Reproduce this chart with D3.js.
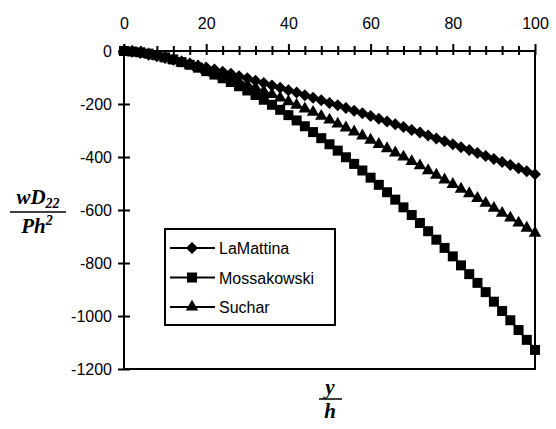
<!DOCTYPE html>
<html>
<head>
<meta charset="utf-8">
<script src="https://cdn.jsdelivr.net/npm/d3@7"></script>
<style>
body { margin: 0; background: #fff; }
text { font-family: "Liberation Sans", Arial, sans-serif; fill: #000; }
.axis path { display: none; }
.axis line { stroke: #000; stroke-width: 2px; }
.tick text { font-size: 16px; }
.ttl { font-family: "Liberation Serif", "Times New Roman", serif; font-weight: bold; font-style: italic; }
</style>
</head>
<body>
<svg id="chart"></svg>
<script>
// y/h positions
const xs = [0,2,4,6,8,10,12,14,16,18,20,22,24,26,28,30,32,34,36,38,40,42,44,46,48,50,
  52,54,56,58,60,62,64,66,68,70,72,74,76,78,80,82,84,86,88,90,92,94,96,98,100];
const laMattina = [0,-3,-8,-14,-20,-26,-33,-40,-47,-55,-62,-70,-78,-86,-95,-103,-112,-121,-130,-139,
  -148,-157,-167,-176,-186,-196,-205,-215,-225,-235,-245,-256,-266,-276,-287,-298,-308,-319,-330,-341,
  -352,-363,-374,-385,-396,-408,-419,-430,-442,-454,-465];
const mossakowski = [0,-2,-5,-10,-16,-24,-32,-42,-52,-63,-76,-89,-103,-117,-133,-149,-166,-184,-203,-222,
  -242,-262,-284,-306,-329,-352,-376,-401,-426,-451,-478,-505,-533,-561,-590,-619,-649,-680,-712,-743,
  -775,-809,-842,-875,-910,-946,-981,-1016,-1053,-1090,-1128];
const suchar = [0,-3,-8,-13,-20,-27,-35,-44,-53,-62,-72,-83,-93,-104,-116,-127,-139,-152,-164,-177,
  -191,-204,-218,-231,-246,-260,-275,-290,-305,-320,-336,-352,-368,-384,-400,-417,-433,-451,-468,-486,
  -503,-521,-538,-556,-574,-593,-612,-630,-649,-668,-687];
const xTicks = [0,20,40,60,80,100];
const xMinorTicks = [4,8,12,16,24,28,32,36,44,48,52,56,64,68,72,76,84,88,92,96];
const yTicks = [0,-200,-400,-600,-800,-1000,-1200];
const seriesNames = ["LaMattina","Mossakowski","Suchar"];

const w = 556, h = 429;
const svg = d3.select("#chart").attr("width", w).attr("height", h);

const x = d3.scaleLinear().domain([0, 100]).range([124, 535]);
const y = d3.scaleLinear().domain([-1200, 0]).range([369, 51]);

// frame
svg.append("rect")
  .attr("x", x(0)).attr("y", y(0))
  .attr("width", x(100) - x(0)).attr("height", y(-1200) - y(0))
  .attr("fill", "none").attr("stroke", "#000").attr("stroke-width", 2);

// top axis, ticks cross the line
svg.append("g").attr("class", "axis")
  .attr("transform", "translate(0," + y(0) + ")")
  .call(d3.axisTop(x).tickValues(xTicks).tickSize(7).tickPadding(15).tickFormat(d => String(d)))
  .selectAll(".tick line").attr("y1", 4);
svg.append("g").attr("class", "axis")
  .attr("transform", "translate(0," + y(0) + ")")
  .call(d3.axisTop(x).tickValues(xMinorTicks).tickSize(5).tickFormat(""))
  .selectAll(".tick line").attr("y1", 4);

// left axis
svg.append("g").attr("class", "axis")
  .attr("transform", "translate(" + x(0) + ",0)")
  .call(d3.axisLeft(y).tickValues(yTicks).tickSize(6).tickPadding(6).tickFormat(d => String(d)))
  .selectAll(".tick line").attr("x1", 6);

// markers
const diamond = {
  draw(ctx, size) {
    const r = Math.sqrt(size) / 2;
    ctx.moveTo(0, -r); ctx.lineTo(r, 0); ctx.lineTo(0, r); ctx.lineTo(-r, 0); ctx.closePath();
  }
};
const symbols = [
  d3.symbol().type(diamond).size(144),
  d3.symbol().type(d3.symbolSquare).size(100),
  d3.symbol().type(d3.symbolTriangle).size(68)
];

const allSeries = [laMattina, mossakowski, suchar];
const line = d3.line().x((d, i) => x(xs[i])).y(d => y(d));

allSeries.forEach(function(vals, k) {
  const g = svg.append("g");
  g.append("path").attr("d", line(vals))
    .attr("fill", "none").attr("stroke", "#000").attr("stroke-width", 2);
  g.selectAll("path.m").data(vals).enter().append("path")
    .attr("class", "m")
    .attr("d", symbols[k])
    .attr("transform", (d, i) => "translate(" + x(xs[i]) + "," + y(d) + ")")
    .attr("fill", "#000");
});

// legend
const lg = svg.append("g");
lg.append("rect").attr("x", 165).attr("y", 229).attr("width", 170).attr("height", 96)
  .attr("fill", "#fff").attr("stroke", "#000").attr("stroke-width", 2);
seriesNames.forEach(function(name, k) {
  const cy = 248 + k * 29.5;
  lg.append("line").attr("x1", 170).attr("x2", 215).attr("y1", cy).attr("y2", cy)
    .attr("stroke", "#000").attr("stroke-width", 2);
  lg.append("path").attr("d", symbols[k]).attr("transform", "translate(192," + cy + ")");
  lg.append("text").attr("x", 219).attr("y", cy + 6).style("font-size", "16px").text(name);
});

// y title: wD22 / Ph2
const yt = svg.append("g");
const num = yt.append("text").attr("class", "ttl").attr("x", 38).attr("y", 204)
  .attr("text-anchor", "middle").style("font-size", "21px");
num.append("tspan").text("wD");
num.append("tspan").attr("dy", 4).style("font-size", "14px").text("22");
yt.append("line").attr("x1", 10).attr("x2", 66).attr("y1", 212).attr("y2", 212)
  .attr("stroke", "#000").attr("stroke-width", 1.5);
const den = yt.append("text").attr("class", "ttl").attr("x", 37).attr("y", 233)
  .attr("text-anchor", "middle").style("font-size", "21px");
den.append("tspan").text("Ph");
den.append("tspan").attr("dy", -8).style("font-size", "14px").text("2");

// x title: y / h
const xt = svg.append("g");
xt.append("text").attr("class", "ttl").attr("x", 330).attr("y", 394)
  .attr("text-anchor", "middle").style("font-size", "21px").text("y");
xt.append("line").attr("x1", 319).attr("x2", 342).attr("y1", 399).attr("y2", 399)
  .attr("stroke", "#000").attr("stroke-width", 1.5);
xt.append("text").attr("class", "ttl").attr("x", 330).attr("y", 418)
  .attr("text-anchor", "middle").style("font-size", "21px").text("h");
</script>
</body>
</html>
